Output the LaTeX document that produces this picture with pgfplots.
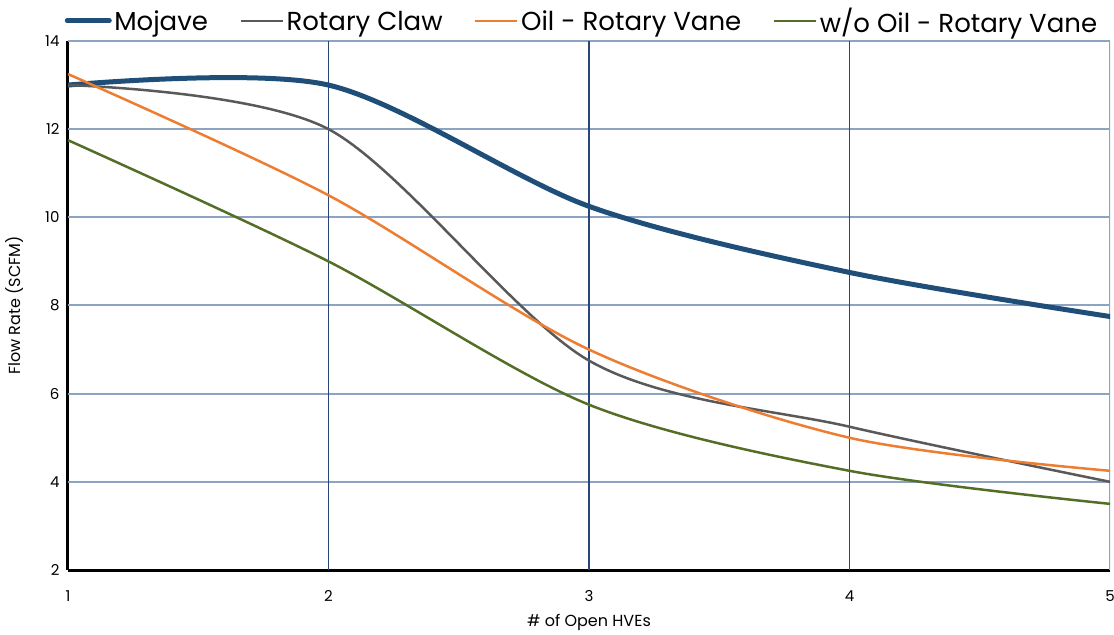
\documentclass[border=0pt]{standalone}
\usepackage{pgfplots}
\pgfplotsset{compat=1.18}
\usepackage{fontspec}
\setmainfont{Poppins}
\definecolor{cMoj}{RGB}{31,78,121}
\definecolor{cClaw}{RGB}{89,89,89}
\definecolor{cOil}{RGB}{237,125,49}
\definecolor{cWo}{RGB}{84,110,40}
\definecolor{cGridH}{RGB}{140,163,194}
\definecolor{cGridV}{RGB}{40,70,120}
\begin{document}
\begin{tikzpicture}
\begin{axis}[
  scale only axis, width=1042pt, height=529pt,
  xmin=1, xmax=5, ymin=2, ymax=14,
  xtick={1,2,3,4,5}, ytick={2,4,...,14},
  /pgf/number format/assume math mode=true,
  ticklabel style={font=\fontsize{15pt}{18pt}\selectfont},
  xticklabel style={yshift=-17pt},
  yticklabel style={xshift=-5pt},
  tick style={draw=none},
  axis x line*=bottom, axis y line*=left,
  axis line style={line width=3pt, black, -},
  xlabel={\# of Open HVEs}, ylabel={Flow Rate (SCFM)},
  label style={font=\fontsize{16pt}{19pt}\selectfont},
  xlabel style={yshift=-6pt},
  ylabel style={yshift=15pt},
  legend columns=4,
  legend style={at={(0.4935,1.0)}, anchor=south, draw=none, fill=none,
    font=\fontsize{26pt}{30pt}\selectfont, yshift=4pt,
    nodes={inner xsep=2.5pt, inner ysep=1pt},
    /tikz/every even column/.append style={column sep=29pt}},
  legend image code/.code={\draw[#1] (0pt,0pt) -- (42pt,0pt);},
]
% grid
\addplot[cGridH, line width=2pt, forget plot] coordinates {(1,4) (5,4)};
\addplot[cGridH, line width=2pt, forget plot] coordinates {(1,6) (5,6)};
\addplot[cGridH, line width=2pt, forget plot] coordinates {(1,8) (5,8)};
\addplot[cGridH, line width=2pt, forget plot] coordinates {(1,10) (5,10)};
\addplot[cGridH, line width=2pt, forget plot] coordinates {(1,12) (5,12)};
\addplot[cGridH, line width=2pt, forget plot] coordinates {(1,14) (5,14)};
\addplot[cGridV, line width=1.3pt, forget plot] coordinates {(2,2) (2,14)};
\addplot[cGridV, line width=1.3pt, forget plot] coordinates {(3,2) (3,14)};
\addplot[cGridV, line width=1.3pt, forget plot] coordinates {(4,2) (4,14)};
\addplot[cGridH, line width=2pt, forget plot] coordinates {(5,2) (5,14)};
% data
\addplot[cMoj, line width=5pt, smooth, tension=0.5, line cap=round] coordinates {(1,13.0) (2,13.0) (3,10.25) (4,8.75) (5,7.75)};
\addlegendentry{\strut Mojave}
\addplot[cClaw, line width=2.5pt, smooth, tension=0.5] coordinates {(1,13.0) (2,12.0) (3,6.75) (4,5.25) (5,4.0)};
\addlegendentry{\strut Rotary Claw}
\addplot[cOil, line width=2.5pt, smooth, tension=0.5] coordinates {(1,13.25) (2,10.5) (3,7.0) (4,5.0) (5,4.25)};
\addlegendentry{\strut Oil - Rotary Vane}
\addplot[cWo, line width=2.5pt, smooth, tension=0.5] coordinates {(1,11.75) (2,9.0) (3,5.75) (4,4.25) (5,3.5)};
\addlegendentry{\strut w/o Oil - Rotary Vane}
\coordinate (BL) at (rel axis cs:0,0);
\coordinate (TR) at (rel axis cs:1,1);
\end{axis}
\pgfresetboundingbox
\path[use as bounding box] ([xshift=-68pt,yshift=-64pt]BL) rectangle ([xshift=4pt,yshift=41pt]TR);
\end{tikzpicture}
\end{document}
